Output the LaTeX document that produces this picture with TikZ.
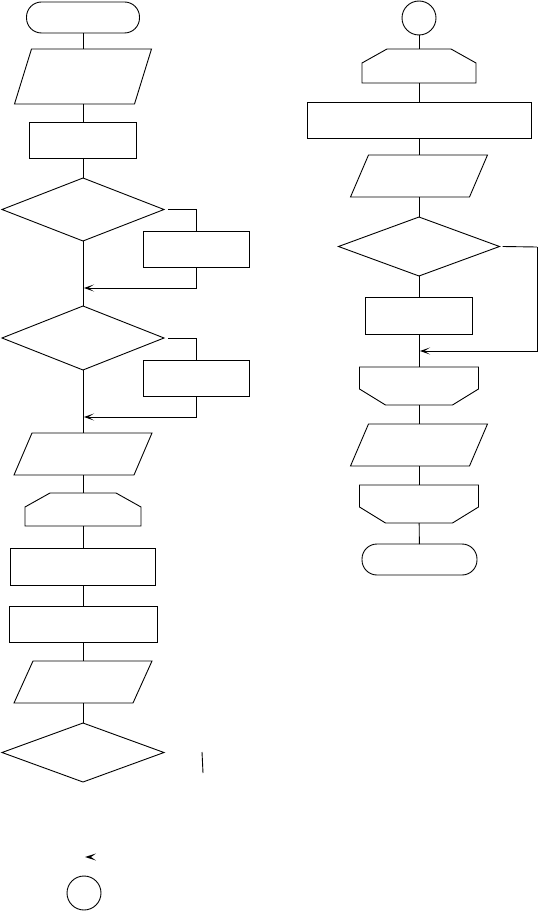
\documentclass[tikz,border=0pt]{standalone}
\usetikzlibrary{shapes.geometric,arrows.meta}
\newcommand\paraoutline[2]{\draw ([xshift=#2pt]#1.north west) -- (#1.north east) -- ([xshift=-#2pt]#1.south east) -- (#1.south west) -- cycle;}
\newcommand\loopstartoutline[1]{\draw ([xshift=25pt]#1.north west) -- ([xshift=-25pt]#1.north east) -- ([yshift=-14pt]#1.north east) -- (#1.south east) -- (#1.south west) -- ([yshift=-14pt]#1.north west) -- cycle;}
\newcommand\loopendoutline[1]{\draw (#1.north west) -- (#1.north east) -- ([yshift=16pt]#1.south east) -- ([xshift=-26pt]#1.south east) -- ([xshift=26pt]#1.south west) -- ([yshift=16pt]#1.south west) -- cycle;}
\begin{document}
\begin{tikzpicture}[x=1pt,y=-1pt,line width=0.9pt,
  sz/.style 2 args={minimum width=#1pt,minimum height=#2pt},
  base/.style={inner sep=0pt,outer sep=0pt},
  box/.style={base,draw,rectangle},
  term/.style={base,draw,rectangle,rounded corners=15pt},
  dec/.style={base,draw,diamond},
  slot/.style={base,rectangle},
  conn/.style={base,draw,circle,minimum size=34pt},
  flow/.style={draw},
  merge/.style={draw,-{Stealth[length=10pt,width=7pt,inset=5.5pt]}}]
\useasboundingbox (0,0) rectangle (543,912);

% left column
\node[term,sz={113}{31}] (L1) at (83,17.5) {};
\node[slot,sz={137}{55}] (L2) at (83,76.5) {};
\paraoutline{L2}{17}
\node[box,sz={107}{36}] (L3) at (83,140) {};
\node[dec,sz={162}{63}] (L4) at (83,209.5) {};
\node[box,sz={106}{36}] (L4b) at (196,249) {};
\coordinate (M1) at (83,288);
\node[dec,sz={162}{64}] (L5) at (83,338) {};
\node[box,sz={106}{36}] (L5b) at (196,378) {};
\coordinate (M2) at (83,417);
\node[slot,sz={138}{42}] (L6) at (83,454) {};
\paraoutline{L6}{18}
\node[slot,sz={116}{33}] (L7) at (83,509.5) {};
\loopstartoutline{L7}
\node[box,sz={145}{37}] (L8) at (83,566.5) {};
\node[box,sz={148}{36}] (L9) at (83,624) {};
\node[slot,sz={138}{42}] (L10) at (83,682) {};
\paraoutline{L10}{19}
\node[dec,sz={162}{59}] (L11) at (83,752.5) {};
\coordinate (S1) at (202,752);
\coordinate (S2) at (203,773);
\node[conn] (L12) at (84,893) {};

\draw[flow] (L1) -- (L2);
\draw[flow] (L2) -- (L3);
\draw[flow] (L3) -- (L4);
\draw[flow] (L4) -- (L5);
\draw[flow] ([xshift=4pt]L4.east) -| (L4b.north);
\draw[merge] (L4b.south) |- ([xshift=1pt]M1);
\draw[flow] (L5) -- (L6);
\draw[flow] ([xshift=4pt]L5.east) -| (L5b.north);
\draw[merge] (L5b.south) |- ([xshift=1pt]M2);
\draw[flow] (L6) -- (L7);
\draw[flow] (L7) -- (L8);
\draw[flow] (L8) -- (L9);
\draw[flow] (L9) -- (L10);
\draw[flow] (L10) -- (L11);
\draw[flow] (S1) -- (S2);
\fill (96,853.5) -- (85,857) -- (96,860.5) -- (91,857) -- cycle;

% right column
\node[conn] (R1) at (419,18) {};
\node[slot,sz={114}{34}] (R2) at (419,66) {};
\loopstartoutline{R2}
\node[box,sz={224}{36}] (R3) at (419,120) {};
\node[slot,sz={137}{42}] (R4) at (419,176) {};
\paraoutline{R4}{18}
\node[dec,sz={161}{59}] (R5) at (419,246.5) {};
\node[box,sz={107}{37}] (R6) at (419,315.5) {};
\coordinate (M3) at (419,351);
\coordinate (B3) at (537,247);
\node[slot,sz={119}{38}] (R7) at (419,386) {};
\loopendoutline{R7}
\node[slot,sz={137}{42}] (R8) at (419,445) {};
\paraoutline{R8}{18}
\node[slot,sz={119}{38}] (R9) at (419,504) {};
\loopendoutline{R9}
\node[term,sz={115}{31}] (R10) at (419.5,559.5) {};

\draw[flow] (R1) -- (R2);
\draw[flow] (R2) -- (R3);
\draw[flow] (R3) -- (R4);
\draw[flow] (R4) -- (R5);
\draw[flow] (R5) -- (R6);
\draw[flow] (R6) -- (R7);
\draw[flow] ([xshift=3pt]R5.east) -- (B3);
\draw[merge] (B3) |- ([xshift=1pt]M3);
\draw[flow] (R7) -- (R8);
\draw[flow] (R8) -- (R9);
\draw[flow] (R9) -- (R10);
\end{tikzpicture}
\end{document}
